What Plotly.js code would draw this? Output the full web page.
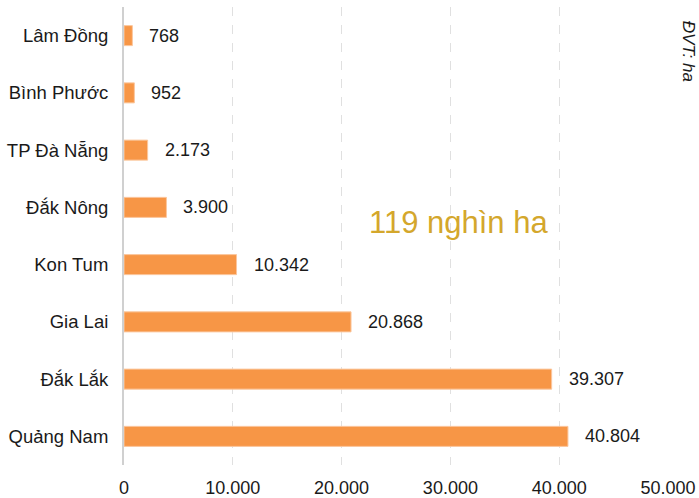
<!DOCTYPE html>
<html><head><meta charset="utf-8">
<script src="https://cdn.plot.ly/plotly-3.0.1.min.js"></script>
<style>body{margin:0;background:#fff}#c{width:699px;height:498px}</style>
</head><body><div id="c"></div>
<script>
const provinces = ["Lâm Đồng","Bình Phước","TP Đà Nẵng","Đắk Nông","Kon Tum","Gia Lai","Đắk Lắk","Quảng Nam"];
const areaHa = [768, 952, 2173, 3900, 10342, 20868, 39307, 40804];
const tickVals = [0, 10000, 20000, 30000, 40000, 50000];
const tickText = ["0","10.000","20.000","30.000","40.000","50.000"];
const totalLabel = "119 nghìn ha";
const unitLabel = "ĐVT: ha";

const fmt = v => String(v).replace(/\B(?=(\d{3})+(?!\d))/g, ".");
const FONT = "Liberation Sans, Arial";

const valueNotes = provinces.map((p, i) => ({
  x: areaHa[i], y: p, xref: "x", yref: "y", text: fmt(areaHa[i]),
  xanchor: "left", yanchor: "middle", xshift: 15, showarrow: false,
  font: {family: FONT, size: 18, color: "#1a1a1a"}
}));

Plotly.newPlot("c", [{
  type: "bar", orientation: "h",
  y: provinces, x: areaHa,
  width: 0.35,
  marker: {color: "#F79646", line: {color: "#FBC79E", width: 1}},
  hoverinfo: "none"
}], {
  width: 699, height: 498,
  margin: {l: 124, r: 31, t: 7, b: 33},
  paper_bgcolor: "#fff", plot_bgcolor: "#fff",
  font: {family: FONT, size: 18, color: "#1a1a1a"},
  xaxis: {range: [0, 50000], tickvals: tickVals, ticktext: tickText,
    showgrid: true, gridcolor: "#e0e0e0", griddash: "dash", gridwidth: 1,
    zeroline: false, showline: false, ticks: "", fixedrange: true,
    ticklabelstandoff: 10, tickfont: {size: 18}},
  yaxis: {autorange: "reversed", showline: true, linecolor: "#d0d0d0", linewidth: 2,
    ticks: "", showgrid: false, tickfont: {size: 18.5}, fixedrange: true,
    ticklabelstandoff: 10},
  showlegend: false,
  annotations: valueNotes.concat([
    {text: totalLabel, xref: "paper", yref: "paper", x: 0.614, y: 0.53,
     xanchor: "center", yanchor: "middle", showarrow: false,
     font: {size: 31, color: "#D4A72C", family: FONT}},
    {text: "<i>" + unitLabel + "</i>", xref: "paper", yref: "paper", x: 1.037, y: 0.975,
     xanchor: "center", yanchor: "top", showarrow: false, textangle: 90,
     font: {size: 17, color: "#1a1a1a", family: FONT}}
  ])
}, {displayModeBar: false, staticPlot: true});
</script></body></html>
